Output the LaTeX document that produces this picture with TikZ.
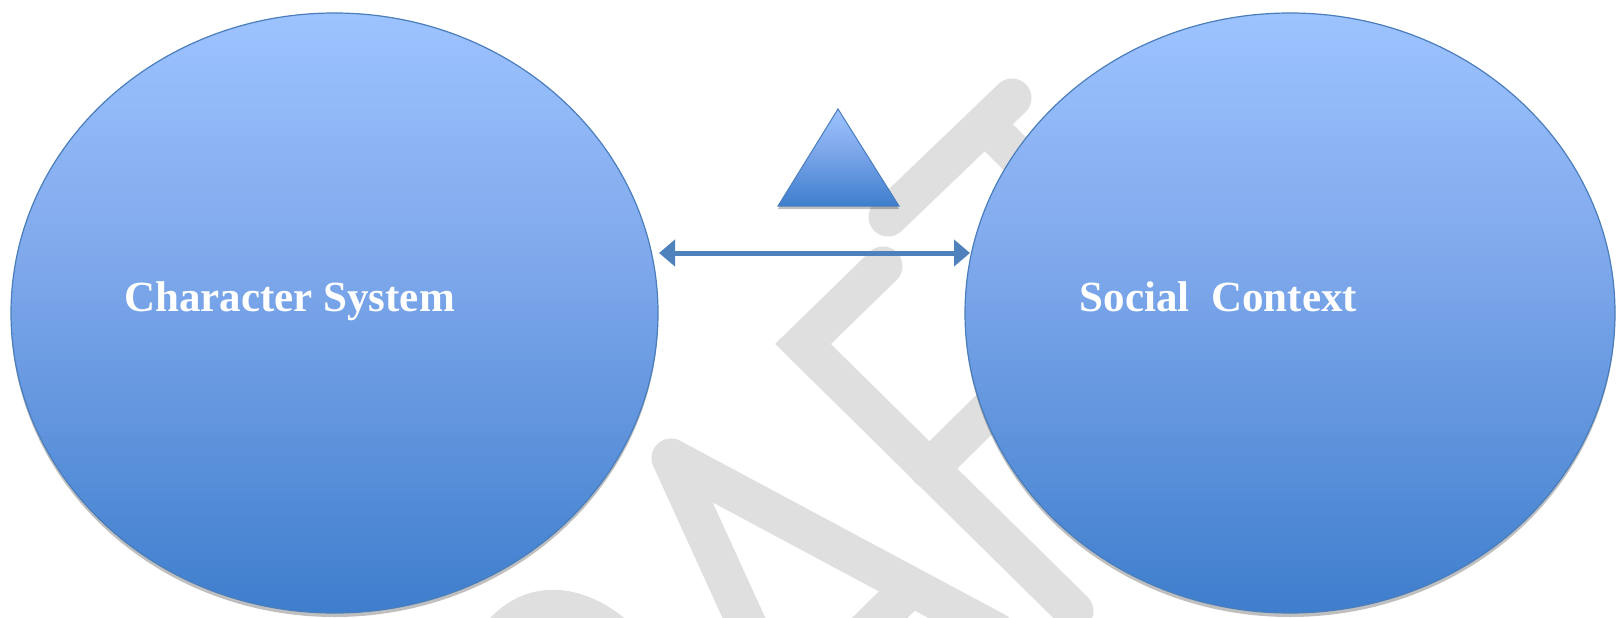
\documentclass[tikz,border=0pt]{standalone}
\usepackage{fontspec}
\setmainfont{Liberation Serif}
\usetikzlibrary{shapes.geometric, arrows.meta, shadows}

\definecolor{ovtop}{RGB}{157,195,255}
\definecolor{ovmid}{RGB}{128,169,236}
\definecolor{ovbot}{RGB}{62,126,205}
\definecolor{ovline}{RGB}{74,126,187}
\definecolor{linkblue}{RGB}{79,129,189}
\definecolor{wmgray}{RGB}{223,223,223}

\pgfdeclareverticalshading{ovalshade}{100bp}{color(0bp)=(ovbot); color(25bp)=(ovbot); color(55bp)=(ovmid); color(75bp)=(ovtop); color(100bp)=(ovtop)}

\tikzset{
  oval/.style={ellipse, inner sep=0pt, draw=ovline, line width=1.2pt, shading=ovalshade,
    drop shadow={shadow xshift=0pt, shadow yshift=-4pt, opacity=.25, fill=black}},
  ovaltext/.style={text=white, font=\fontsize{43}{48}\selectfont\bfseries, anchor=base, inner sep=0pt},
  link/.style={draw=linkblue, line width=5pt, {Triangle[length=16pt,width=26pt]}-{Triangle[length=16pt,width=26pt]}},
  wm/.style={draw=wmgray, line width=39pt, line cap=round, line join=miter},
}

\begin{document}
\begin{tikzpicture}[x=1pt, y=-1pt]
   \useasboundingbox (0,0) rectangle (1619,618);

   % watermark behind the diagram
   \begin{scope}
      \clip (0,0) rectangle (1619,618);
      \path[wm] (485,661) .. controls (516,594) and (578,594) .. (630,650);
      \path[wm, line join=round] (754,640) -- (671,458) -- (996,632);
      \path[wm] (909,589) -- (816,681);
      \path[wm] (883,266) -- (803,344) -- (1074,611);
      \path[wm] (929,469) -- (1002,397);
      \path[wm] (888,217) -- (1012,98);
      \path[wm] (985,124) -- (1050,189);
   \end{scope}

   % the two ovals
   \node[oval, minimum width=647pt, minimum height=600pt] (charsys) at (334.5,313) {};
   \node[oval, minimum width=650pt, minimum height=600pt] (social) at (1290,313) {};

   \node[ovaltext] (charsystext) at (289.5,311) {Character System};
   \node[ovaltext] (socialtext) at (1218.5,311) {Social\ \ Context};

   % triangle above the link
   \path[shading=ovalshade, draw=ovline, line width=1pt,
         drop shadow={shadow xshift=0pt, shadow yshift=-3pt, opacity=.25, fill=black}]
      (838,109) -- (899,206) -- (778,206) -- cycle;

   % link between the ovals
   \coordinate (linkl) at (659,253);
   \coordinate (linkr) at (970,253);
   \draw[link] (linkl) -- (linkr);
\end{tikzpicture}
\end{document}
